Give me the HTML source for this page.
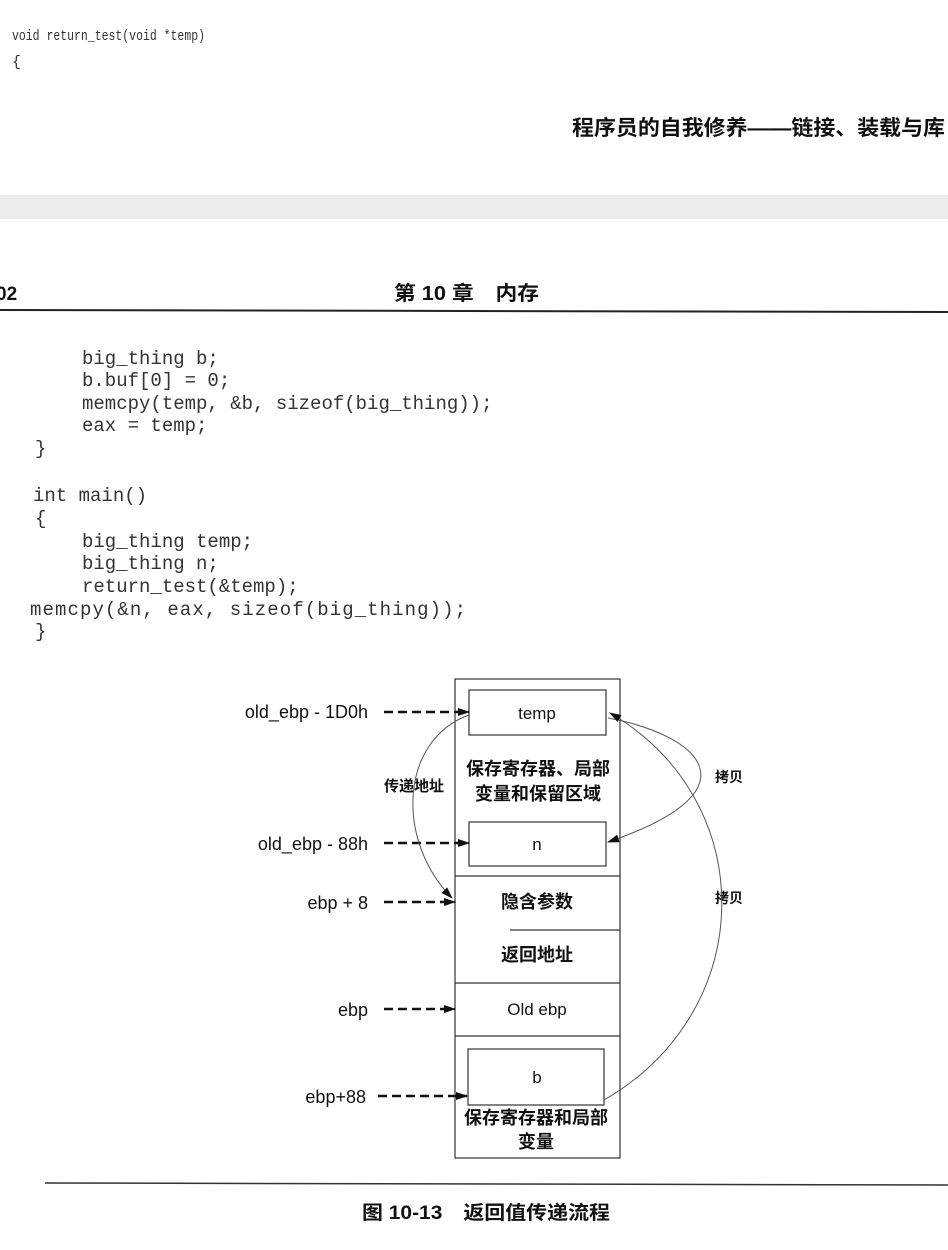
<!DOCTYPE html>
<html><head><meta charset="utf-8"><style>
html,body{margin:0;padding:0;background:#fff;}
body{width:948px;height:1250px;position:relative;overflow:hidden;}
</style></head><body>
<svg width="948" height="1250" xmlns="http://www.w3.org/2000/svg" style="position:absolute;left:0;top:0">
<defs>
<marker id="ah" markerWidth="12" markerHeight="8" refX="11" refY="4" orient="auto" markerUnits="userSpaceOnUse">
<path d="M0,0 L12,4 L0,8 z" fill="#111"/></marker>
</defs>
<g font-family="Liberation Mono, monospace" fill="#333">
<text x="12" y="40" font-size="15" textLength="193" lengthAdjust="spacingAndGlyphs">void return_test(void *temp)</text>
<text x="12" y="66" font-size="15">{</text>
</g>
<text x="572" y="135" textLength="373" lengthAdjust="spacingAndGlyphs" font-family="Liberation Sans, Noto Sans CJK SC, sans-serif" font-size="21" font-weight="bold" fill="#111">程序员的自我修养——链接、装载与库</text>
<rect x="0" y="195" width="948" height="24" fill="#ebebeb"/>
<text x="-4" y="300" font-family="Liberation Sans, sans-serif" font-size="19" font-weight="bold" fill="#111">02</text>
<text x="394" y="300" textLength="145" lengthAdjust="spacingAndGlyphs" font-family="Liberation Sans, Noto Sans CJK SC, sans-serif" font-size="20" font-weight="bold" fill="#111">第 10 章　内存</text>
<line x1="0" y1="310" x2="948" y2="312" stroke="#222" stroke-width="2"/>
<g font-family="Liberation Mono, monospace" font-size="19" fill="#333" xml:space="preserve">
<text x="82" y="364">big_thing b;</text>
<text x="82" y="386">b.buf[0] = 0;</text>
<text x="82" y="409">memcpy(temp, &amp;b, sizeof(big_thing));</text>
<text x="82" y="431">eax = temp;</text>
<text x="35" y="454">}</text>
<text x="33" y="501">int main()</text>
<text x="35" y="524">{</text>
<text x="82" y="547">big_thing temp;</text>
<text x="82" y="569">big_thing n;</text>
<text x="82" y="592">return_test(&amp;temp);</text>
<text x="30" y="615" textLength="436">memcpy(&amp;n, eax, sizeof(big_thing));</text>
<text x="35" y="637">}</text>
</g>
<g stroke="#333" fill="none" stroke-width="1.2">
<rect x="455" y="679" width="165" height="479"/>
<rect x="469" y="690" width="137" height="45"/>
<rect x="469" y="822" width="137" height="44"/>
<line x1="455" y1="876" x2="620" y2="876"/>
<line x1="510" y1="930" x2="620" y2="930"/>
<line x1="455" y1="983" x2="620" y2="983"/>
<line x1="455" y1="1036" x2="620" y2="1036"/>
<rect x="468" y="1049" width="136" height="56"/>
</g>
<g font-family="Liberation Sans, Noto Sans CJK SC, sans-serif" fill="#111" text-anchor="middle">
<text x="537" y="719" font-size="17">temp</text>
<text x="537" y="850" font-size="17">n</text>
<text x="537" y="1015" font-size="17">Old ebp</text>
<text x="537" y="1083" font-size="17">b</text>
<g font-size="18" font-weight="bold">
<text x="538" y="775">保存寄存器、局部</text>
<text x="538" y="800">变量和保留区域</text>
<text x="537" y="908">隐含参数</text>
<text x="537" y="961">返回地址</text>
<text x="536" y="1124">保存寄存器和局部</text>
<text x="536" y="1148">变量</text>
</g>
<g font-weight="bold">
<text x="414" y="791" font-size="15">传递地址</text>
<text x="729" y="782" font-size="14">拷贝</text>
<text x="729" y="903" font-size="14">拷贝</text>
</g>
</g>
<g font-family="Liberation Sans, sans-serif" font-size="18" fill="#111" text-anchor="end">
<text x="368" y="718">old_ebp - 1D0h</text>
<text x="368" y="850">old_ebp - 88h</text>
<text x="368" y="909">ebp + 8</text>
<text x="368" y="1016">ebp</text>
<text x="366" y="1103">ebp+88</text>
</g>
<g stroke="#111" stroke-width="2.5" stroke-dasharray="9,5" marker-end="url(#ah)" fill="none">
<line x1="384" y1="712" x2="469" y2="712"/>
<line x1="384" y1="843" x2="469" y2="843"/>
<line x1="384" y1="902" x2="455" y2="902"/>
<line x1="384" y1="1009" x2="455" y2="1009"/>
<line x1="378" y1="1096" x2="467" y2="1096"/>
</g>
<g stroke="#555" stroke-width="1" fill="none" marker-end="url(#ah)">
<path d="M469,715 C400,740 395,840 452,898"/>
<path d="M608,718 C700,735 760,790 608,842"/>
<path d="M604,1100 C760,1010 760,800 610,713"/>
</g>
<line x1="45" y1="1183" x2="948" y2="1185" stroke="#333" stroke-width="1.5"/>
<text x="362" y="1219" textLength="248" lengthAdjust="spacingAndGlyphs" font-family="Liberation Sans, Noto Sans CJK SC, sans-serif" font-size="19" font-weight="bold" fill="#111">图 10-13　返回值传递流程</text>
</svg>
</body></html>
